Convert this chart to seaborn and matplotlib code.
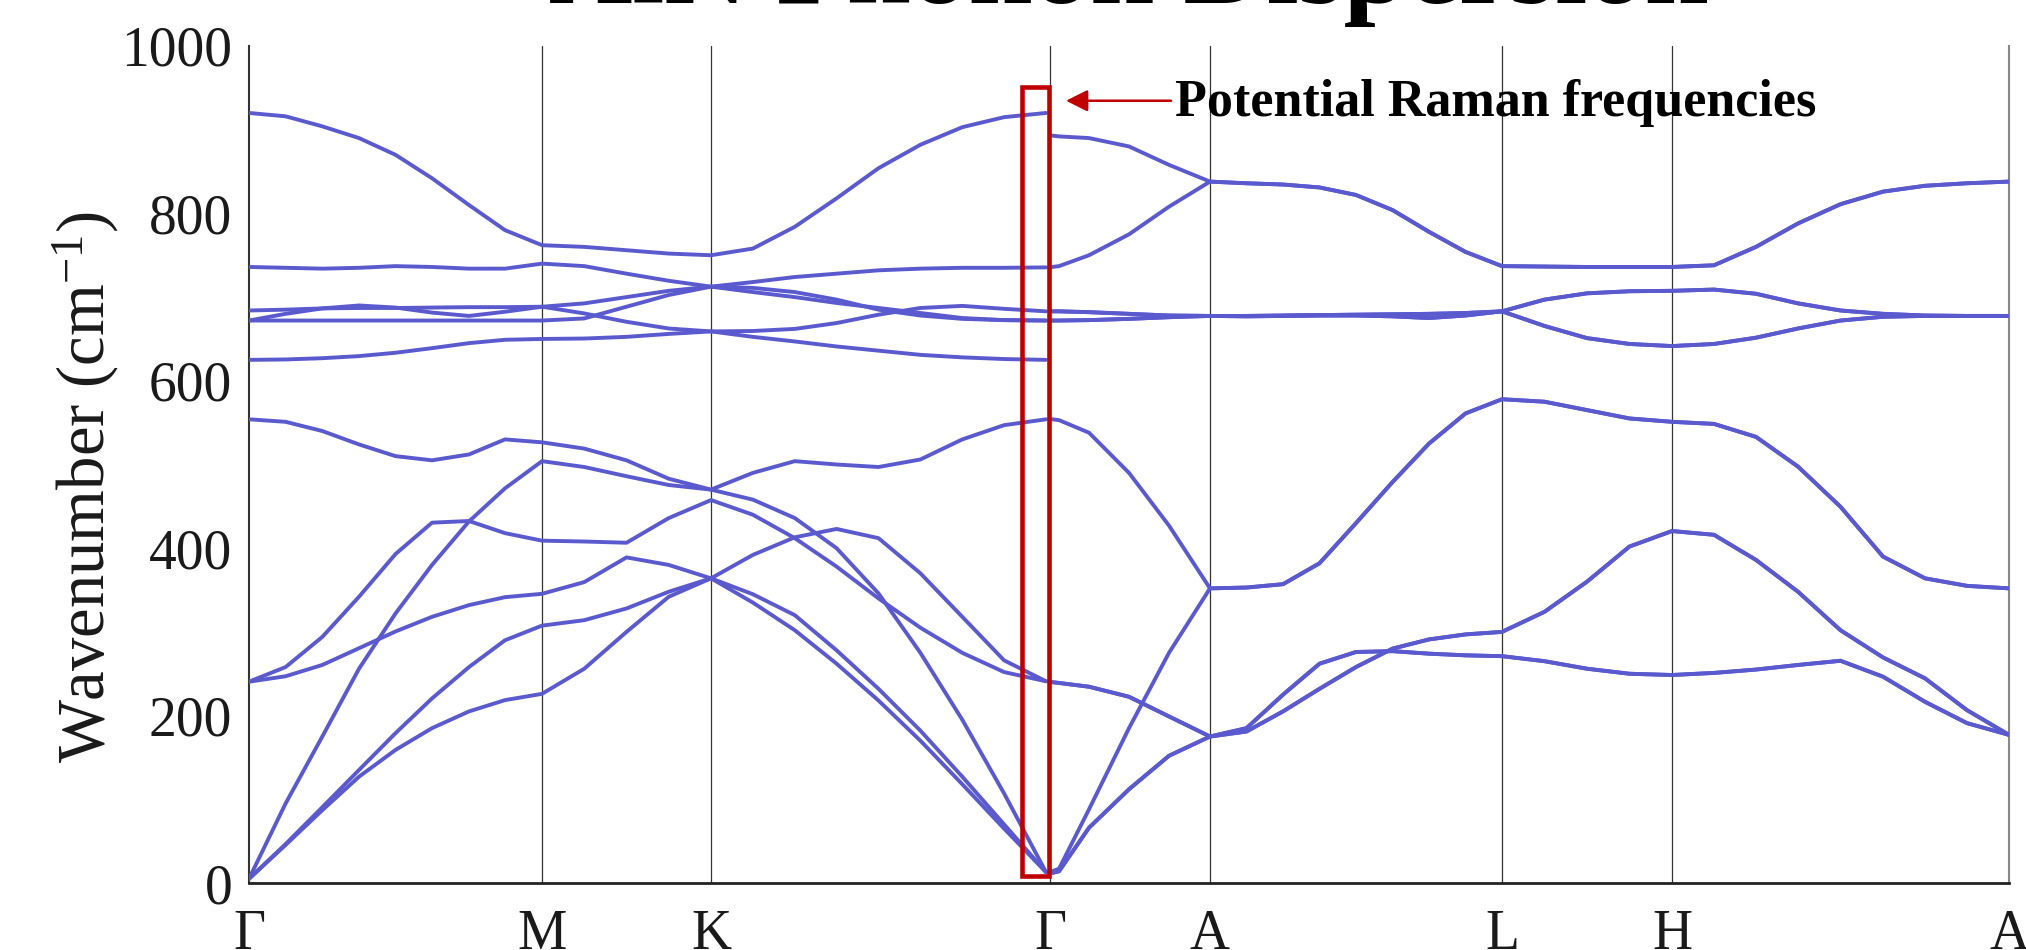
import numpy as np
import pandas as pd
import matplotlib
matplotlib.use("Agg")
import matplotlib.pyplot as plt
import seaborn as sns
from matplotlib.patches import Rectangle

# ---------------- data ----------------
sym_labels = ["Γ", "M", "K", "Γ", "A", "L", "H", "A"]
sym_pos = [0, 293, 462, 801, 961, 1253, 1423, 1760]

q_path = [0, 36.6, 73.3, 110, 146.5, 183, 220, 256, 293,
          335.25, 377.5, 419.75, 462,
          503.9, 545.8, 587.6, 629.5, 671.4, 713.3, 755.1, 797,
          803, 810, 840, 880, 920, 961,
          997.5, 1034, 1070.5, 1107, 1143.5, 1180, 1216.5, 1253,
          1295.5, 1338, 1380.5, 1423,
          1465, 1507, 1549, 1591.5, 1634, 1676, 1718, 1760]
gamma_break = 21  # LO-TO discontinuity at the second Γ

band_12 = [920, 916, 904, 890, 870, 842, 810, 780, 762,
           760, 756, 752, 750,
           758, 784, 818, 854, 882, 903, 915, 920,
           893, 892, 890, 880, 858, 838,
           836, 834.5, 831, 822, 804, 778, 754, 737,
           736.5, 736, 736, 736,
           738, 760, 788, 811, 826, 833, 836, 838]
band_11 = [736, 735, 734, 735, 737, 736, 734, 734, 740,
           737, 728, 719.5, 712.5,
           718, 724, 728, 732, 734, 735, 735, 735.5,
           736, 737, 750, 775, 808, 838,
           836, 834.5, 831, 822, 804, 778, 754, 737,
           736.5, 736, 736, 736,
           738, 760, 788, 811, 826, 833, 836, 838]
band_10 = [684, 685, 686.5, 687, 687, 687.5, 688, 688, 688.5,
           692.5, 700, 707.5, 712.5,
           706, 700, 693, 687, 681, 675, 672.5, 672,
           683, 683, 682, 680, 678, 677.5,
           677, 677.5, 678, 678, 677, 675, 678, 683,
           697, 704.5, 707, 707.5,
           709, 704, 692.5, 684, 680, 678, 677.5, 677.5]
band_9 = [672, 680, 686.5, 690, 687.5, 681.5, 677.5, 682.5, 688.5,
          680.5, 670.5, 662.5, 659,
          659.5, 662, 669, 679, 687, 689.5, 686, 683,
          683, 683, 682, 680, 678, 677.5,
          677, 677.5, 678, 678, 677, 675, 678, 683,
          665.5, 651, 644, 641.5,
          644, 651.5, 662.5, 672, 676.5, 677.5, 677.5, 677.5]
band_8 = [672, 672, 672, 672, 672, 672, 672, 672, 672,
          674.5, 688.5, 702.5, 712.5,
          711, 706, 697, 685, 678, 674, 672.5, 672,
          672, 672, 672.5, 674, 676, 677.5,
          677.5, 678, 678.5, 679, 679.5, 680, 681, 683,
          697, 704.5, 707, 707.5,
          709, 704, 692.5, 684, 680, 678, 677.5, 677.5]
band_7 = [625, 625.5, 627, 629.5, 633.5, 639, 645, 649, 650,
          650.5, 652.5, 656, 659,
          652.5, 647, 641, 636, 631, 628, 626, 625,
          672, 672, 672.5, 674, 676, 677.5,
          677.5, 678, 678.5, 679, 679.5, 680, 681, 683,
          665.5, 651, 644, 641.5,
          644, 651.5, 662.5, 672, 676.5, 677.5, 677.5, 677.5]
band_6 = [554, 551, 540, 524, 510, 505, 512, 530, 526.5,
          519, 505, 483, 470,
          490, 504, 500, 497, 506, 530, 547, 554,
          554, 553, 538, 490, 427, 352,
          353, 357, 382, 430, 479, 525, 561, 578,
          575, 565, 555, 551,
          548.5, 533, 497.5, 449.5, 390, 364, 355, 352]
band_5 = [240.5, 258, 294, 342, 393, 430.5, 432.5, 418, 409,
          408, 406.5, 436, 457.5,
          440, 412, 378, 340, 305, 275, 252, 241,
          240, 239, 234.5, 222.5, 199, 175,
          181, 205, 232, 258, 280, 291, 297, 300,
          324, 360, 402, 420.5,
          416, 386, 348, 302, 269.5, 244.5, 206.5, 177]
band_4 = [240.5, 247, 260.5, 280.5, 300.5, 318, 332, 341.5, 345.5,
          359.5, 389, 380, 364,
          392, 413, 423, 412, 370, 318, 266, 241,
          240, 239, 234.5, 222.5, 199, 175,
          185, 225, 262, 276, 277, 274, 272, 271,
          265, 256, 250, 248.5,
          251, 255, 260.5, 265.5, 246.5, 216.5, 191, 177]
band_3 = [5, 95, 175, 256, 322, 380, 432, 471.5, 504,
          497, 486, 475.5, 470,
          458, 436, 400, 346, 275, 195, 107, 13,
          14, 17, 88, 185, 275, 352,
          353, 357, 382, 430, 479, 525, 561, 578,
          575, 565, 555, 551,
          548.5, 533, 497.5, 449.5, 390, 364, 355, 352]
band_2 = [5, 46.5, 90.5, 135, 179, 220.5, 258, 290, 307.5,
          314, 328, 348, 364,
          345, 320, 278, 232, 182, 127, 70, 13,
          12, 14, 66, 112, 152, 175,
          181, 205, 232, 258, 280, 291, 297, 300,
          324, 360, 402, 420.5,
          416, 386, 348, 302, 269.5, 244.5, 206.5, 177]
band_1 = [5, 45.5, 87, 127, 159, 185, 205, 218.5, 226,
          256, 300, 342, 364,
          335, 302, 262, 218, 170, 118, 65, 13,
          12, 14, 66, 112, 152, 175,
          185, 225, 262, 276, 277, 274, 272, 271,
          265, 256, 250, 248.5,
          251, 255, 260.5, 265.5, 246.5, 216.5, 191, 177]

bands = [band_1, band_2, band_3, band_4, band_5, band_6,
         band_7, band_8, band_9, band_10, band_11, band_12]

title_text = "AlN Phonon Dispersion"
ylabel_text = "Wavenumber (cm$^{-1}$)"
note_text = "Potential Raman frequencies"
raman_box = (773, 8.4, 26.5, 943)     # x, y, width, height in data units
arrow_tip = (817, 934.6)
arrow_tail = (922, 934.6)
note_pos = (926, 916.4)

# ---------------- build table ----------------
rows = []
n = len(q_path)
for b, vals in enumerate(bands):
    for part, (lo, hi) in enumerate([(0, gamma_break), (gamma_break, n)]):
        for q, f in zip(q_path[lo:hi], vals[lo:hi]):
            rows.append({"q": q, "freq": f, "seg": f"b{b}_{part}"})
df = pd.DataFrame(rows)

# ---------------- style ----------------
sns.set_theme(style="white")
plt.rcParams["font.family"] = ["Liberation Serif", "DejaVu Serif"]
plt.rcParams["mathtext.default"] = "regular"

W, H = 2026, 950
fig = plt.figure(figsize=(W / 100, H / 100), dpi=100)
ax = fig.add_axes([249 / W, (H - 883) / H, 1760 / W, 837 / H])

line_color = "#5a5ace"
for xv in sym_pos[1:-1]:
    ax.axvline(xv, color="#333333", lw=0.9, zorder=1)

sns.lineplot(data=df, x="q", y="freq", units="seg", estimator=None, sort=False,
             color=line_color, lw=2.8, ax=ax, legend=False, zorder=3,
             solid_joinstyle="round", solid_capstyle="round")

ax.set_xlim(sym_pos[0], sym_pos[-1])
ax.set_ylim(0, 1000)
ax.set_xticks(sym_pos)
ax.set_xticklabels(sym_labels)
ax.set_yticks([0, 200, 400, 600, 800, 1000])
ax.tick_params(axis="x", length=0, pad=19, labelsize=40, labelcolor="#1a1a1a")
ax.tick_params(axis="y", direction="in", length=12, width=1.2, pad=12,
               labelsize=40, color="#222222", labelcolor="#1a1a1a")
ax.set_xlabel("")
ax.set_ylabel(ylabel_text, fontsize=48, color="#1a1a1a")
ax.yaxis.set_label_coords(-0.073, 0.473)

ax.spines["top"].set_visible(False)
ax.spines["left"].set_color("#333333")
ax.spines["left"].set_linewidth(1.5)
ax.spines["bottom"].set_color("#222222")
ax.spines["bottom"].set_linewidth(2)
ax.spines["right"].set_color("#888888")
ax.spines["right"].set_linewidth(1.5)

# Raman box and annotation
ax.add_patch(Rectangle(raman_box[:2], raman_box[2], raman_box[3], fill=False,
                       edgecolor="#c00000", lw=3.3, joinstyle="miter", zorder=5,
                       clip_on=False))
ax.annotate("", xy=arrow_tip, xytext=arrow_tail,
            arrowprops=dict(arrowstyle="-|>,head_length=0.6,head_width=0.3",
                            color="#c00000", lw=1.8, mutation_scale=22,
                            shrinkA=0, shrinkB=0), zorder=6)
ax.text(note_pos[0], note_pos[1], note_text, fontsize=37.5, fontweight="bold",
        ha="left", va="baseline", color="black", zorder=6)

fig.text((249 + 880) / W, 1 - 3 / H, title_text, ha="center", va="baseline",
         fontsize=83, fontweight="bold", color="black")

fig.savefig("out.png", dpi=100, facecolor="white")
